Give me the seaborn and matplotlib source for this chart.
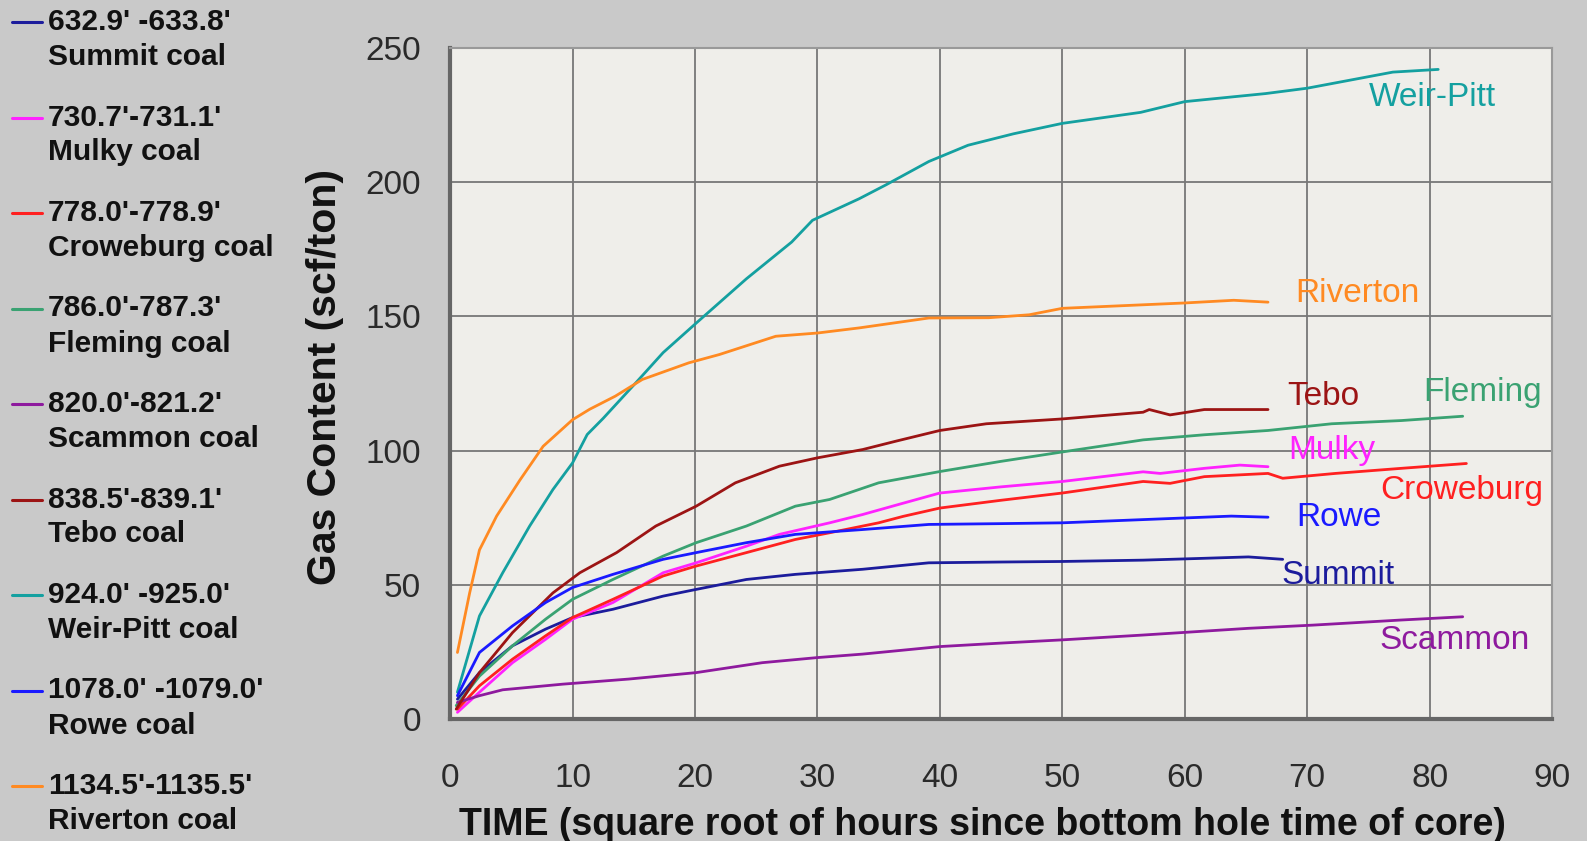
"""
Gas content desorption curves per coal seam.
"""

import pandas as pd
import matplotlib.pyplot as plt
from matplotlib.lines import Line2D
import seaborn as sns

sns.set_style("white")
plt.rcParams["font.family"] = ["Liberation Sans", "DejaVu Sans"]

# coal seams, depth intervals, colours
SEAMS = ["Summit", "Mulky", "Croweburg", "Fleming", "Scammon",
         "Tebo", "Weir-Pitt", "Rowe", "Riverton"]
DEPTHS = ["632.9' -633.8'", "730.7'-731.1'", "778.0'-778.9'", "786.0'-787.3'",
          "820.0'-821.2'", "838.5'-839.1'", "924.0' -925.0'", "1078.0' -1079.0'",
          "1134.5'-1135.5'"]
COLORS = ["#1c1c9c", "#ff22ff", "#ff2020", "#3aa272", "#8e1a9e",
          "#9c1414", "#14a0a0", "#1a1aff", "#ff8a22"]

# values: x = sqrt(hours), y = scf/ton
summit_x = [0.6, 2.4, 5.1, 7.8, 10, 13.3, 17.4, 20.1, 24.2, 28.2, 33.7, 39.1, 45, 50, 56.6, 61, 65.2, 68]
summit_y = [7.4, 17.3, 27.3, 33.5, 37.8, 40.9, 45.8, 48.3, 52, 53.9, 55.8, 58.2, 58.5, 58.7, 59.2, 59.8, 60.4, 59.5]

mulky_x = [0.6, 2.4, 5.1, 7.8, 10, 13.3, 17.4, 20.1, 24.2, 26.9, 31, 33.7, 36.6, 40, 45, 50, 56.6, 58, 61.6, 64.5, 66.8]
mulky_y = [2.5, 10, 21, 29.7, 37.2, 43.4, 54.5, 58.2, 64.4, 68.8, 73.1, 76.2, 79.9, 84.2, 86.5, 88.5, 92.1, 91.5, 93.4, 94.6, 94]

croweburg_x = [0.6, 2.4, 5.1, 7.8, 10, 13.3, 17.4, 20.1, 24.2, 28.2, 31, 35, 37, 40, 45, 50, 56.6, 58.8, 61.6, 66.8, 68, 72.3, 77.7, 83]
croweburg_y = [3.7, 12.4, 22.3, 31, 37.8, 44.6, 53.3, 57, 62, 66.9, 69.4, 73.1, 75.5, 78.6, 81.5, 84.2, 88.5, 87.8, 90.3, 91.5, 89.7, 91.5, 93.4, 95.2]

fleming_x = [0.5, 2.4, 5.1, 7.8, 10, 13.3, 17.4, 20.1, 24.2, 28.2, 31, 35, 40, 45, 50, 56.6, 61.6, 66.8, 72, 77.7, 82.7]
fleming_y = [5, 16, 27.3, 37.2, 44.6, 52, 60.7, 65.7, 71.9, 79.3, 81.8, 88, 92.2, 96, 99.5, 104, 105.9, 107.5, 110, 111.2, 112.8]

scammon_x = [0.6, 2.4, 4.3, 9.2, 14.6, 20.1, 25.5, 30, 33.7, 40, 45, 50, 56.6, 65.2, 70.5, 77.7, 82.7]
scammon_y = [6.2, 8.7, 10.9, 13, 14.9, 17.3, 21, 22.9, 24.2, 27, 28.3, 29.5, 31.3, 33.8, 35, 36.9, 38.1]

tebo_x = [0.5, 2.4, 5.1, 8.4, 10.6, 13.6, 16.8, 20.1, 23.3, 26.9, 30, 33.7, 36.4, 40, 43.8, 50, 56.6, 57.1, 58.8, 61.6, 66.8]
tebo_y = [3.7, 17.3, 32.2, 47, 54.5, 62, 71.9, 79.3, 88, 94.2, 97.3, 100.4, 103.5, 107.5, 110, 111.8, 114.3, 115.3, 113.3, 115.3, 115.3]

weirpitt_x = [0.6, 2.4, 4.3, 6.5, 8.4, 10, 11.2, 12.5, 15.2, 17.4, 20.1, 24.2, 27.9, 29.6, 33.4, 35.6, 39.1,
              42.3, 46, 50, 56.4, 60, 66.6, 70, 77, 80.7]
weirpitt_y = [10, 38.4, 54.5, 71.9, 85.5, 95.4, 106.0, 112, 125.4, 136.5, 147.5, 164, 177.7, 185.8, 193.8, 199, 207.7,
              213.75, 218, 221.9, 226, 230, 233, 235, 241, 242]

rowe_x = [0.6, 2.4, 5.1, 7.8, 10, 13.3, 17.4, 20.1, 24.2, 28.2, 33.7, 39.1, 45, 50, 56.6, 63.8, 66.8]
rowe_y = [8.7, 24.8, 34.7, 43.4, 49, 53.9, 59.5, 62, 65.7, 68.8, 70.6, 72.5, 72.8, 73.1, 74.3, 75.6, 75.2]

riverton_x = [0.6, 1.6, 2.4, 3.8, 5.7, 7.6, 10, 11.4, 13.5, 15.7, 19.5, 22, 26.6, 30, 33.4, 39.1, 44, 47.3,
              50, 55, 60, 64, 66.8]
riverton_y = [24.8, 47, 63, 75.6, 89, 101.6, 111.5, 115.4, 120.3, 126.5, 132.7, 135.8, 142.6, 143.8, 145.7, 149.4,
              149.5, 150.6, 153, 154, 155, 156, 155.3]

# curve-end label positions (data coords)
label_x = [72.5, 72.0, 82.6, 84.3, 82.0, 71.3, 80.2, 72.6, 74.1]
label_y = [53.3, 100.2, 85.0, 121.8, 29.4, 120.0, 231.4, 74.9, 158.7]

series = {
    "Summit": (summit_x, summit_y), "Mulky": (mulky_x, mulky_y),
    "Croweburg": (croweburg_x, croweburg_y), "Fleming": (fleming_x, fleming_y),
    "Scammon": (scammon_x, scammon_y), "Tebo": (tebo_x, tebo_y),
    "Weir-Pitt": (weirpitt_x, weirpitt_y), "Rowe": (rowe_x, rowe_y),
    "Riverton": (riverton_x, riverton_y),
}
df = pd.concat([pd.DataFrame({"seam": k, "t": v[0], "gas": v[1]}) for k, v in series.items()],
               ignore_index=True)

fig = plt.figure(figsize=(15.87, 8.41), dpi=100)
fig.patch.set_facecolor("#c9c9c9")
ax = fig.add_axes([0.2836, 0.145, 0.6944, 0.798])
ax.set_facecolor("#efeeea")

sns.lineplot(data=df, x="t", y="gas", hue="seam", palette=dict(zip(SEAMS, COLORS)),
             estimator=None, sort=False, legend=False, linewidth=2.0, ax=ax)

for name, color, lx, ly in zip(SEAMS, COLORS, label_x, label_y):
    ax.text(lx, ly, name, color=color, fontsize=24, ha="center", va="center")

ax.set_xlim(0, 90)
ax.set_ylim(0, 250)
ax.set_xticks(range(0, 91, 10))
ax.set_yticks(range(0, 251, 50))
ax.grid(True, color="#777777", linewidth=1.3)
ax.tick_params(axis="both", labelsize=24, labelcolor="#2a2a2a", color="#777777",
               length=12, width=1.3, direction="out")
ax.tick_params(axis="y", pad=9)
ax.tick_params(axis="x", pad=20)
for side in ["left", "bottom"]:
    ax.spines[side].set_color("#666666")
    ax.spines[side].set_linewidth(3)
for side in ["top", "right"]:
    ax.spines[side].set_color("#999999")
    ax.spines[side].set_linewidth(1.5)

ax.set_xlabel("TIME (square root of hours since bottom hole time of core)",
              fontsize=27, fontweight="bold", color="#111111", va="baseline")
ax.xaxis.set_label_coords(0.483, -0.173)
ax.set_ylabel("Gas Content (scf/ton)", fontsize=29.5, fontweight="bold", color="#111111",
              va="center", ha="center")
ax.yaxis.set_label_coords(-0.1138, 0.51)

# legend drawn by hand: swatch on the depth line, seam name underneath
for i, (name, depth, color) in enumerate(zip(SEAMS, DEPTHS, COLORS)):
    y0 = 1 - (22 + i * 95.5) / 841
    fig.add_artist(Line2D([12 / 1587, 42 / 1587], [y0, y0], color=color, linewidth=2.2))
    fig.text(48 / 1587, y0, depth, fontsize=21.5, fontweight="bold", color="#111111", va="center")
    fig.text(48 / 1587, y0 - 35 / 841, name + " coal", fontsize=21.5, fontweight="bold",
             color="#111111", va="center")

plt.savefig("out.png", dpi=100, facecolor=fig.get_facecolor())
plt.close()
